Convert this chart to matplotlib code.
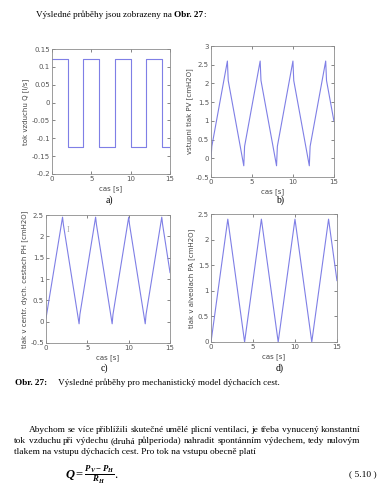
import matplotlib
matplotlib.use('Agg')
import matplotlib.pyplot as plt

plt.rcParams['mathtext.fontset'] = 'custom'
plt.rcParams['mathtext.rm'] = 'Liberation Serif'
plt.rcParams['mathtext.it'] = 'Liberation Serif:italic:bold'

# a) tok vzduchu Q
t_q = [0, 2, 2, 4, 4, 6, 6, 8, 8, 10, 10, 12, 12, 14, 14, 15]
q = [0.123, 0.123, -0.125, -0.125, 0.123, 0.123, -0.125, -0.125,
     0.123, 0.123, -0.125, -0.125, 0.123, 0.123, -0.125, -0.125]

# b) vstupni tlak PV
t_pv = [0, 0.1, 2, 2.1, 4, 4.1, 6, 6.1, 8, 8.1, 10, 10.1, 12, 12.1, 14, 14.1, 15]
pv = [0.0, 0.32, 2.6, 2.08, -0.2, 0.32, 2.6, 2.08, -0.2, 0.32, 2.6, 2.08,
      -0.2, 0.32, 2.6, 2.08, 1.0]

# c) tlak v centr. dych. cestach PH
t_ph = [0, 2, 2.1, 4, 4.1, 6, 6.1, 8, 8.1, 10, 10.1, 12, 12.1, 14, 14.1, 15]
ph = [0.08, 2.45, 2.28, -0.05, 0.17, 2.45, 2.28, -0.05, 0.17, 2.45, 2.28,
      -0.05, 0.17, 2.45, 2.28, 1.15]

# d) tlak v alveolach PA
t_pa = [0, 2, 4, 6, 8, 10, 12, 14, 15]
pa = [0, 2.4, 0, 2.4, 0, 2.4, 0, 2.4, 1.2]

line_col = '#7f7fe6'
frame_col = '#8c8c8c'
serif = 'Liberation Serif'
W, H = 384, 494

fig = plt.figure(figsize=(3.84, 4.94), dpi=100)


def fx(x):
    return x / W


def fy(y):
    return 1 - y / H


def panel(rect, t, y, ylim, yticks, ylabel, tag, tag_xy):
    ax = fig.add_axes(rect)
    ax.plot(t, y, color=line_col, linewidth=0.8)
    ax.set_xlim(0, 15)
    ax.set_ylim(*ylim)
    ax.set_xticks([0, 5, 10, 15])
    ax.set_yticks(yticks)
    ax.set_yticklabels([('%g' % v) for v in yticks])
    ax.tick_params(direction='in', length=2, width=0.5, labelsize=5,
                   colors='#555555', top=True, right=True, pad=1.5)
    for s in ax.spines.values():
        s.set_color(frame_col)
        s.set_linewidth(0.6)
    ax.set_xlabel('cas [s]', fontsize=5, color='#444444', labelpad=2)
    ax.set_ylabel(ylabel, fontsize=5, color='#444444', labelpad=2)
    fig.text(fx(tag_xy[0]), fy(tag_xy[1]), tag, ha='center', va='center',
             fontsize=7, family=serif)
    return ax


panel([0.1354, 0.6478, 0.307, 0.253], t_q, q, (-0.2, 0.15),
      [-0.2, -0.15, -0.1, -0.05, 0, 0.05, 0.1, 0.15],
      'tok vzduchu Q [l/s]', 'a)', (109, 200))
panel([0.5495, 0.6417, 0.320, 0.265], t_pv, pv, (-0.5, 3),
      [-0.5, 0, 0.5, 1, 1.5, 2, 2.5, 3],
      'vstupni tlak PV [cmH2O]', 'b)', (280, 200))
axc = panel([0.1198, 0.3057, 0.323, 0.259], t_ph, ph, (-0.5, 2.5),
            [-0.5, 0, 0.5, 1, 1.5, 2, 2.5],
            'tlak v centr. dych. cestach PH [cmH2O]', 'c)', (104, 368))
axc.text(0.18, 0.88, 'I', transform=axc.transAxes, fontsize=6,
         color='#aaaaaa', family=serif, ha='center', va='center')
panel([0.5495, 0.3077, 0.328, 0.259], t_pa, pa, (0, 2.5),
      [0, 0.5, 1, 1.5, 2, 2.5],
      'tlak v alveolach PA [cmH2O]', 'd)', (280, 368))

renderer = fig.canvas.get_renderer()


def runs(x_px, y_px, parts, size):
    # draws pieces of text one after another on one line
    x = x_px
    for s, w in parts:
        t = fig.text(fx(x), fy(y_px), s, fontsize=size, family=serif,
                     weight=w, va='center', ha='left')
        x += t.get_window_extent(renderer).width
    return x


def justified(x0, x1, y_px, s, size):
    words = s.split(' ')
    arts = [fig.text(fx(x0), fy(y_px), w, fontsize=size, family=serif,
                     va='center', ha='left') for w in words]
    widths = [a.get_window_extent(renderer).width for a in arts]
    gap = (x1 - x0 - sum(widths)) / (len(words) - 1)
    x = x0
    for a, w in zip(arts, widths):
        a.set_x(fx(x))
        x += w + gap


runs(36, 15, [('Výsledné průběhy jsou zobrazeny na ', 'normal'),
              ('Obr. 27', 'bold'), (':', 'normal')], 6.6)

runs(15, 383, [('Obr. 27:', 'bold'),
               ('     Výsledné průběhy pro mechanistický model dýchacích cest.', 'normal')], 6.6)

body_size = 6.75
justified(29, 360, 430, 'Abychom se více přiblížili skutečné umělé plicní '
          'ventilaci, je třeba vynucený konstantní', body_size)
justified(14, 360, 441, 'tok vzduchu při výdechu (druhá půlperioda) nahradit '
          'spontánním výdechem, tedy nulovým', body_size)
fig.text(fx(14), fy(452), 'tlakem na vstupu dýchacích cest. Pro tok na vstupu '
         'obecně platí', fontsize=body_size, family=serif, va='center', ha='left')

fig.text(fx(65), fy(475), r'$Q = \frac{P_V - P_H}{R_H}$.',
         fontsize=9, family=serif, va='center', ha='left')
fig.text(fx(377), fy(474), '( 5.10 )', fontsize=6.8, family=serif,
         va='center', ha='right')

fig.savefig('out.png', dpi=100)
